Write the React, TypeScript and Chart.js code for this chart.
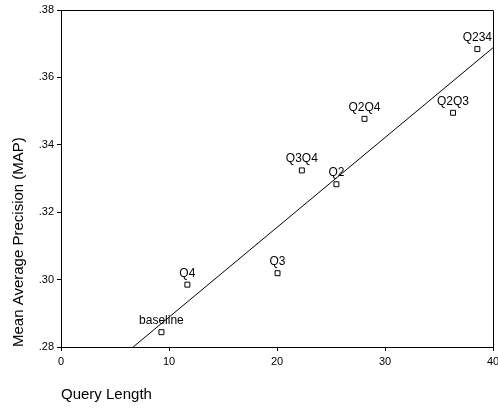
import React, { useEffect, useRef } from "react";
import { Chart, registerables } from "chart.js";

Chart.register(...registerables);

const pointLabels = ["baseline", "Q4", "Q3", "Q2", "Q3Q4", "Q2Q4", "Q2Q3", "Q234"];
const queryLength = [9.3, 11.7, 20.05, 25.5, 22.3, 28.1, 36.3, 38.55];
const mapValues = [0.2844, 0.2985, 0.3019, 0.3283, 0.3324, 0.3477, 0.3495, 0.3684];
const fitX = [6.68, 40];
const fitY = [0.28, 0.3688];
const xTickMin = 0;
const xTickMax = 40;
const xTickStep = 10;
const yTickMin = 0.28;
const yTickMax = 0.38;
const yTickStep = 0.02;

const FONT = "'Liberation Sans', Arial, sans-serif";

const labelPlugin = {
  id: "pointLabels",
  afterDatasetsDraw(chart: any) {
    const ctx = chart.ctx;
    const meta = chart.getDatasetMeta(0);
    ctx.save();
    ctx.font = `12px ${FONT}`;
    ctx.fillStyle = "#000";
    ctx.textAlign = "center";
    ctx.textBaseline = "alphabetic";
    meta.data.forEach((el: any, i: number) => {
      ctx.fillText(pointLabels[i], el.x, el.y - 8);
    });
    ctx.restore();
  },
};

const boxPlugin = {
  id: "plotBox",
  afterDraw(chart: any) {
    const { ctx, chartArea } = chart;
    ctx.save();
    ctx.strokeStyle = "#000";
    ctx.lineWidth = 1;
    ctx.beginPath();
    ctx.moveTo(chartArea.left, chartArea.top + 0.5);
    ctx.lineTo(chartArea.right + 0.5, chartArea.top + 0.5);
    ctx.lineTo(chartArea.right + 0.5, chartArea.bottom);
    ctx.stroke();
    ctx.restore();
  },
};

export default function App() {
  const ref = useRef<HTMLCanvasElement | null>(null);
  useEffect(() => {
    if (!ref.current) return;
    const chart = new Chart(ref.current, {
      type: "scatter",
      data: {
        datasets: [
          {
            data: queryLength.map((x, i) => ({ x, y: mapValues[i] })),
            pointStyle: "rect",
            pointRadius: 3.5,
            pointBorderWidth: 1,
            borderColor: "#000",
            backgroundColor: "#fff",
          },
          {
            data: fitX.map((x, i) => ({ x, y: fitY[i] })),
            showLine: true,
            pointRadius: 0,
            borderColor: "#000",
            borderWidth: 1,
            backgroundColor: "#000",
          },
        ],
      },
      options: {
        animation: false,
        responsive: false,
        maintainAspectRatio: false,
        layout: { padding: { top: 10, right: 4, left: 0, bottom: 0 } },
        plugins: { legend: { display: false }, tooltip: { enabled: false } },
        scales: {
          x: {
            type: "linear",
            min: xTickMin,
            max: xTickMax,
            afterFit: (s: any) => {
              s.height = 62;
              s.paddingLeft = 0;
              s.paddingRight = 0;
            },
            ticks: {
              stepSize: xTickStep,
              color: "#000",
              font: { family: FONT, size: 11 },
              padding: 4,
              maxRotation: 0,
            },
            grid: { drawOnChartArea: false, drawTicks: true, tickLength: 4, color: "#000" },
            border: { display: true, color: "#000", width: 1 },
            title: {
              display: true,
              text: "Query Length",
              align: "start",
              color: "#000",
              font: { family: FONT, size: 15 },
              padding: { top: 0, bottom: 5 },
            },
          },
          y: {
            type: "linear",
            min: yTickMin,
            max: yTickMax,
            afterFit: (s: any) => {
              s.width = 61;
              s.paddingTop = 0;
              s.paddingBottom = 0;
            },
            ticks: {
              stepSize: yTickStep,
              color: "#000",
              font: { family: FONT, size: 11 },
              padding: 3,
              callback: (v: any) => Number(v).toFixed(2).replace(/^0/, ""),
            },
            grid: { drawOnChartArea: false, drawTicks: true, tickLength: 4, color: "#000" },
            border: { display: true, color: "#000", width: 1 },
            title: {
              display: true,
              text: "Mean Average Precision (MAP)",
              align: "start",
              color: "#000",
              font: { family: FONT, size: 15 },
              padding: { top: 10, bottom: 0 },
            },
          },
        },
      },
      plugins: [labelPlugin, boxPlugin],
    });
    return () => chart.destroy();
  }, []);
  return (
    <div style={{ position: "fixed", left: 0, top: 0, width: 498, height: 409, background: "#fff" }}>
      <canvas ref={ref} width={498} height={409} style={{ display: "block" }} />
    </div>
  );
}
